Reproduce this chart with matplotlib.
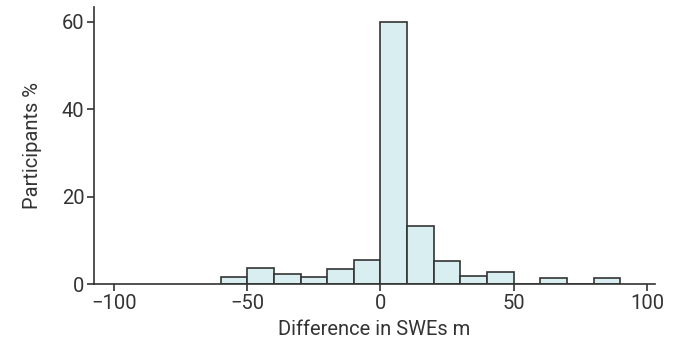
import matplotlib
matplotlib.use("Agg")
import matplotlib.pyplot as plt
import numpy as np

bin_edges = [-60, -50, -40, -30, -20, -10, 0, 10, 20, 30, 40, 50, 60, 70, 80, 90]
percentages = [1.5, 3.6, 2.2, 1.5, 3.5, 5.45, 60.0, 13.2, 5.2, 1.9, 2.7, 0.0, 1.3, 0.0, 1.3]
x_ticks = [-100, -50, 0, 50, 100]
y_ticks = [0, 20, 40, 60]

plt.rcParams['font.family'] = ['Roboto', 'DejaVu Sans']
text_color = '#333333'

fig = plt.figure(figsize=(6.78, 3.46), dpi=100)
ax = fig.add_axes([94/678, (346-284)/346, (655-94)/678, (284-7)/346])

lefts = np.array(bin_edges[:-1])
widths = np.diff(bin_edges)
ax.bar(lefts, percentages, width=widths, align='edge',
       color='#d9eef0', edgecolor='#333333', linewidth=1.2)

ax.set_xlim(-107.5, 103)
ax.set_ylim(0, 63.4)
ax.set_xticks(x_ticks)
ax.set_xticklabels(['\u2212100', '\u221250', '0', '50', '100'])
ax.set_yticks(y_ticks)

for s in ['top', 'right']:
    ax.spines[s].set_visible(False)
for s in ['left', 'bottom']:
    ax.spines[s].set_color('#333333')
    ax.spines[s].set_linewidth(1.2)

ax.tick_params(axis='both', direction='out', length=5, width=1.2,
               colors='#333333', labelsize=14.5, labelcolor=text_color, pad=2)

ax.set_xlabel('Difference in SWEs m', fontsize=14.5, color=text_color, labelpad=5)
ax.set_ylabel('Participants %', fontsize=14.5, color=text_color, labelpad=14)

fig.savefig('out.png', dpi=100)
